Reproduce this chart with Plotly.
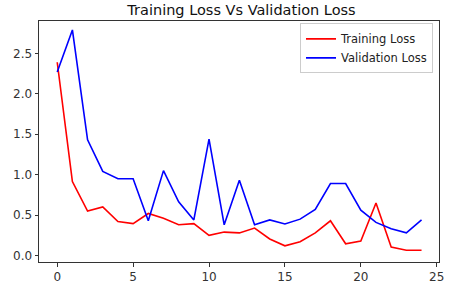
import plotly.graph_objects as go

epochs = list(range(25))
training_loss = [2.39, 0.915, 0.55, 0.60, 0.42, 0.395, 0.52, 0.46, 0.38, 0.395,
                 0.25, 0.29, 0.28, 0.34, 0.205, 0.12, 0.17, 0.28, 0.43, 0.145,
                 0.18, 0.65, 0.105, 0.065, 0.065]
validation_loss = [2.27, 2.79, 1.43, 1.04, 0.95, 0.95, 0.43, 1.05, 0.665, 0.44,
                   1.44, 0.38, 0.93, 0.38, 0.44, 0.39, 0.45, 0.57, 0.89, 0.89,
                   0.56, 0.41, 0.33, 0.28, 0.44]
x_ticks = [0, 5, 10, 15, 20, 25]
y_ticks = [0.0, 0.5, 1.0, 1.5, 2.0, 2.5]

fig = go.Figure()
fig.add_trace(go.Scatter(x=epochs, y=training_loss, mode="lines", name="Training Loss",
                         line=dict(color="red", width=1.6)))
fig.add_trace(go.Scatter(x=epochs, y=validation_loss, mode="lines", name="Validation Loss",
                         line=dict(color="blue", width=1.6)))

axis_common = dict(showgrid=False, zeroline=False, showline=True, mirror=True,
                   linecolor="#333333", linewidth=1, ticks="outside", ticklen=3.5,
                   tickcolor="#333333", tickfont=dict(size=12, color="#333333"))

fig.update_layout(
    width=454, height=294,
    margin=dict(l=39, r=10, t=21, b=25),
    paper_bgcolor="white", plot_bgcolor="white",
    font=dict(family="DejaVu Sans", size=12, color="#222222"),
    title=dict(text="Training Loss Vs Validation Loss", x=0.532, xanchor="center",
               y=0.966, yanchor="middle", font=dict(size=14.5, color="#111111")),
    xaxis=dict(range=[-1.2, 25.15], tickvals=x_ticks, ticktext=[str(v) for v in x_ticks],
               **axis_common),
    yaxis=dict(range=[-0.08, 2.9], tickvals=y_ticks, ticktext=[f"{v:.1f}" for v in y_ticks],
               **axis_common),
    legend=dict(x=0.985, y=0.99, xanchor="right", yanchor="top",
                bgcolor="rgba(255,255,255,0.8)", bordercolor="#cccccc", borderwidth=1,
                font=dict(size=11.5, color="#222222"), tracegroupgap=0, itemwidth=30),
    showlegend=True,
)

fig.write_html("out.html", config={"displayModeBar": False})

with open("out.html", "r", encoding="utf-8") as f:
    html = f.read()
html = html.replace("<head>", "<head><style>html,body{margin:0;padding:0;overflow:hidden;}</style>", 1)
with open("out.html", "w", encoding="utf-8") as f:
    f.write(html)
